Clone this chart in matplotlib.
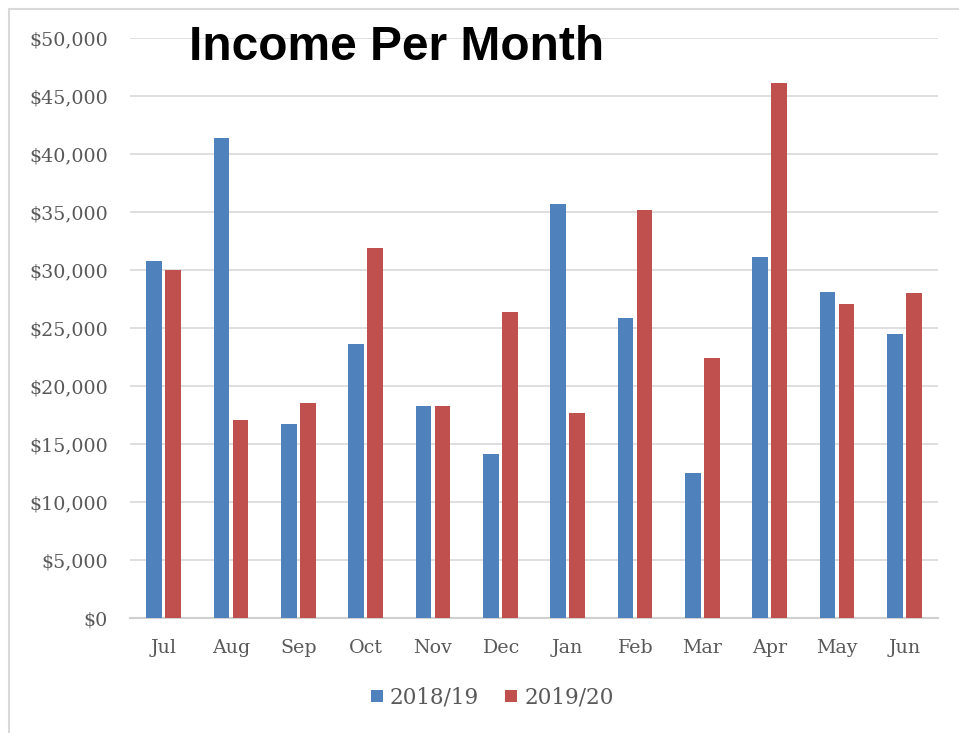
import matplotlib
matplotlib.use("Agg")
import matplotlib.pyplot as plt
import numpy as np
from matplotlib.patches import Rectangle
from matplotlib.lines import Line2D
from matplotlib.ticker import FuncFormatter, MultipleLocator

months = ["Jul", "Aug", "Sep", "Oct", "Nov", "Dec", "Jan", "Feb", "Mar", "Apr", "May", "Jun"]
series_names = ["2018/19", "2019/20"]
income_1819 = [30800, 41400, 16700, 23600, 18300, 14100, 35700, 25900, 12500, 31100, 28100, 24500]
income_1920 = [30000, 17100, 18500, 31900, 18300, 26400, 17700, 35200, 22400, 46100, 27100, 28000]
colors = ["#4f81bd", "#c0504d"]

W, H = 959, 733
fig = plt.figure(figsize=(W / 100, H / 100), dpi=100)
ax = fig.add_axes([130 / W, 1 - 618 / H, (938 - 130) / W, (618 - 38) / H])

serif = ["DejaVu Serif"]
x = np.arange(len(months))
bw = 0.23
ax.bar(x - 0.14, income_1819, bw, color=colors[0], label=series_names[0], zorder=3)
ax.bar(x + 0.14, income_1920, bw, color=colors[1], label=series_names[1], zorder=3)

ax.set_xlim(-0.5, len(months) - 0.5)
ax.set_ylim(0, 50000)
ax.yaxis.set_major_locator(MultipleLocator(5000))
ax.yaxis.set_major_formatter(FuncFormatter(lambda v, p: f"${v:,.0f}"))
ax.set_xticks(x)
ax.set_xticklabels(months)
ax.grid(axis="y", color="#d9d9d9", linewidth=1.2, zorder=0)
for s in ["top", "right", "left"]:
    ax.spines[s].set_visible(False)
ax.spines["bottom"].set_color("#d0d0d0")
ax.spines["bottom"].set_linewidth(1.5)
ax.tick_params(axis="both", length=0, colors="#595959", labelsize=13.7)
ax.tick_params(axis="y", pad=16)
ax.tick_params(axis="x", pad=15)
for lab in ax.get_xticklabels() + ax.get_yticklabels():
    lab.set_family(serif)

fig.text(397 / W, 1 - 48 / H, "Income Per Month", ha="center", va="center",
         fontsize=34.5, fontweight="bold", family=["Liberation Sans", "DejaVu Sans"], color="black")

handles = [Line2D([], [], marker="s", linestyle="", markersize=9, color=c, markeredgewidth=0)
           for c in colors]
leg = fig.legend(handles, series_names, loc="center", bbox_to_anchor=(492 / W, 1 - 698 / H), ncol=2,
                 frameon=False, prop={"family": serif, "size": 15.5}, handlelength=0.6,
                 handletextpad=0.3, columnspacing=1.2)
for t in leg.get_texts():
    t.set_color("#595959")

fig.patches.append(Rectangle((9 / W, -0.1), 1.2, 1 - 9 / H + 0.1, transform=fig.transFigure,
                             fill=False, edgecolor="#d9d9d9", linewidth=1.5))

fig.savefig("out.png", dpi=100)
